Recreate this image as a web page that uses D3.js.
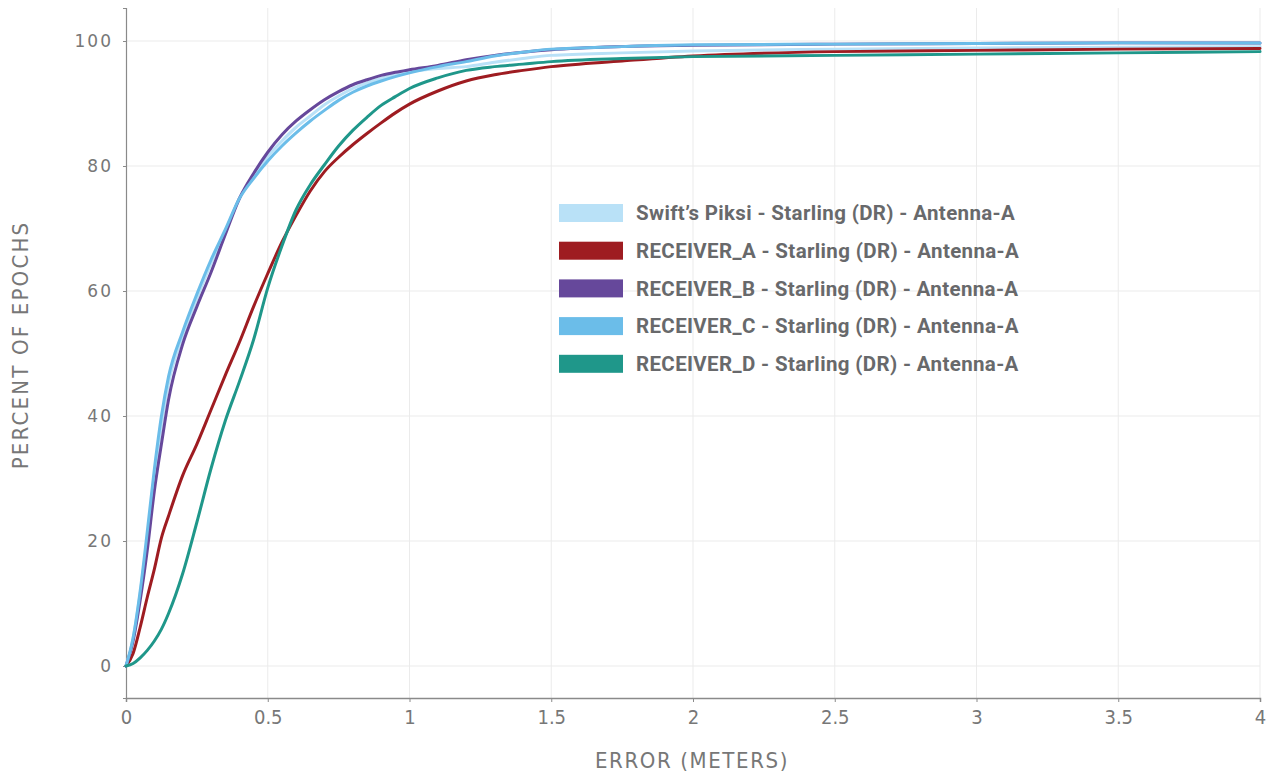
<!DOCTYPE html>
<html>
<head>
<meta charset="utf-8">
<script src="https://cdn.jsdelivr.net/npm/d3@7/dist/d3.min.js"></script>
<style>
  html, body { margin: 0; padding: 0; background: #ffffff; }
  svg { display: block; }
</style>
</head>
<body>
<svg id="chart" width="1269" height="777"></svg>
<script>
// Error thresholds (meters) at which the cumulative share of epochs is sampled
const errorMeters = [0, 0.025, 0.05, 0.075, 0.1, 0.125, 0.15, 0.2, 0.25, 0.3, 0.35, 0.4, 0.45,
  0.5, 0.55, 0.6, 0.65, 0.7, 0.75, 0.8, 0.85, 0.9, 0.95, 1.0, 1.1, 1.2, 1.3, 1.4, 1.5, 1.75, 2, 2.5, 3, 3.5, 4];

// Series names and colours
const seriesNames = [
  "Swift\u2019s Piksi - Starling (DR) - Antenna-A",
  "RECEIVER_A - Starling (DR) - Antenna-A",
  "RECEIVER_B - Starling (DR) - Antenna-A",
  "RECEIVER_C - Starling (DR) - Antenna-A",
  "RECEIVER_D - Starling (DR) - Antenna-A"
];
const seriesColors = ["#b9e1f7", "#9e1c21", "#66489b", "#6bbde9", "#1f978a"];

// Percent of epochs with error below each threshold
const piksiValues = [0, 4.4, 11.6, 20.5, 30.2, 38.5, 45.2, 52.8, 58.8, 64.4, 69.5, 74.8, 78.4,
  81.5, 84, 86.2, 88, 89.8, 91.2, 92.4, 93.3, 94, 94.6, 95.1, 95.6, 95.9, 96.6, 97.2, 97.7, 98.1, 98.4, 98.7, 98.9, 99.0, 99.1];
const receiverAValues = [0, 2, 6.2, 11, 15.5, 20.5, 24, 30.5, 35.5, 41, 46.5, 51.8, 57.5,
  62.8, 67.8, 72.1, 76, 79.1, 81.4, 83.4, 85.2, 86.9, 88.5, 89.9, 92, 93.6, 94.6, 95.3, 95.9, 96.8, 97.6, 98.3, 98.5, 98.7, 98.8];
const receiverBValues = [0, 4, 10.5, 18.5, 28, 35.5, 42.6, 51.5, 57.5, 63, 69, 74.8, 78.8,
  82.2, 85, 87.2, 89, 90.6, 91.9, 93, 93.8, 94.5, 95, 95.4, 96.1, 97, 97.7, 98.2, 98.6, 99.1, 99.3, 99.5, 99.6, 99.7, 99.7];
const receiverCValues = [0, 4.5, 12, 21.5, 31.5, 40, 46.3, 53.5, 59.5, 65, 69.8, 74.8, 78,
  80.8, 83.2, 85.3, 87.2, 88.9, 90.5, 91.8, 92.8, 93.6, 94.3, 94.9, 95.9, 96.7, 97.6, 98.2, 98.7, 99.1, 99.4, 99.5, 99.6, 99.7, 99.7];
const receiverDValues = [0, 0.4, 1.3, 2.5, 4, 5.9, 8.4, 14.8, 23, 31.6, 39.2, 45.5, 52.2,
  60.5, 67.2, 73, 77, 80.2, 83.2, 85.7, 87.8, 89.7, 91.1, 92.4, 94.1, 95.3, 95.9, 96.3, 96.7, 97.2, 97.5, 97.7, 97.9, 98.1, 98.3];

const allValues = [piksiValues, receiverAValues, receiverBValues, receiverCValues, receiverDValues];

const xTicks = [0, 0.5, 1, 1.5, 2, 2.5, 3, 3.5, 4];
const yTicks = [0, 20, 40, 60, 80, 100];

const svg = d3.select("#chart");
const plotLeft = 126, plotRight = 1260, plotTop = 8, plotBottom = 698;
const condFont = "'Liberation Sans Narrow', 'DejaVu Sans Condensed', sans-serif";

const x = d3.scaleLinear().domain([0, 4]).range([plotLeft, plotRight]);
const y = d3.scaleLinear().domain([-5.12, 105.28]).range([plotBottom, plotTop]);

// Grid
const grid = svg.append("g");
grid.selectAll("line.v").data(xTicks.slice(1)).join("line")
  .attr("class", "v")
  .attr("x1", d => x(d)).attr("x2", d => x(d))
  .attr("y1", plotTop).attr("y2", plotBottom)
  .attr("stroke", "#ebebeb").attr("stroke-width", 1);
grid.selectAll("line.h").data(yTicks).join("line")
  .attr("class", "h")
  .attr("x1", plotLeft).attr("x2", plotRight)
  .attr("y1", d => y(d)).attr("y2", d => y(d))
  .attr("stroke", "#ebebeb").attr("stroke-width", 1);

// X axis
const xAxis = svg.append("g")
  .attr("transform", `translate(0,${plotBottom})`)
  .call(d3.axisBottom(x).tickValues(xTicks).tickSize(4).tickPadding(8)
    .tickFormat(d => String(d)));
xAxis.select(".domain").attr("stroke", "#8a8a8a").attr("stroke-width", 1.5);
xAxis.selectAll(".tick line").attr("stroke", "#8a8a8a");
xAxis.selectAll(".tick text")
  .attr("fill", "#777")
  .style("font-size", "20px")
  .style("font-family", condFont);

// Y axis
const yAxis = svg.append("g")
  .attr("transform", `translate(${plotLeft},0)`)
  .call(d3.axisLeft(y).tickValues(yTicks).tickSize(3).tickPadding(10));
yAxis.select(".domain").attr("stroke", "#8a8a8a").attr("stroke-width", 1.2);
yAxis.selectAll(".tick line").attr("stroke", "#8a8a8a");
yAxis.selectAll(".tick text")
  .attr("fill", "#777")
  .style("font-size", "17px")
  .style("letter-spacing", "2px")
  .style("font-family", "'DejaVu Sans', sans-serif");

// Axis titles
svg.append("text")
  .attr("x", 692).attr("y", 768)
  .attr("text-anchor", "middle")
  .attr("fill", "#777")
  .style("font-size", "22px")
  .style("letter-spacing", "1.6px")
  .style("font-family", condFont)
  .text("ERROR (METERS)");

svg.append("text")
  .attr("transform", "translate(28,345) rotate(-90)")
  .attr("text-anchor", "middle")
  .attr("fill", "#777")
  .style("font-size", "22px")
  .style("letter-spacing", "2.2px")
  .style("font-family", condFont)
  .text("PERCENT OF EPOCHS");

// Lines
const line = d3.line()
  .x(d => x(d[0]))
  .y(d => y(d[1]))
  .curve(d3.curveMonotoneX);

const lines = svg.append("g");
allValues.forEach((vals, i) => {
  lines.append("path")
    .datum(errorMeters.map((e, j) => [e, vals[j]]))
    .attr("d", line)
    .attr("fill", "none")
    .attr("stroke", seriesColors[i])
    .attr("stroke-width", 3)
    .attr("stroke-linejoin", "round")
    .attr("stroke-linecap", "round");
});

// Legend
const legend = svg.append("g").attr("transform", "translate(559,204)");
const rowH = 37.7;
seriesNames.forEach((name, i) => {
  const g = legend.append("g").attr("transform", `translate(0,${i * rowH})`);
  g.append("rect").attr("x", 0).attr("y", 0).attr("width", 64).attr("height", 18)
    .attr("fill", seriesColors[i]);
  g.append("text").attr("x", 77).attr("y", 9).attr("dy", "0.36em")
    .attr("fill", "#68696b")
    .style("font-size", "20.5px")
    .style("letter-spacing", "0.35px")
    .style("font-weight", "bold")
    .style("font-family", "'Roboto', 'Noto Sans', sans-serif")
    .text(name);
});
</script>
</body>
</html>
